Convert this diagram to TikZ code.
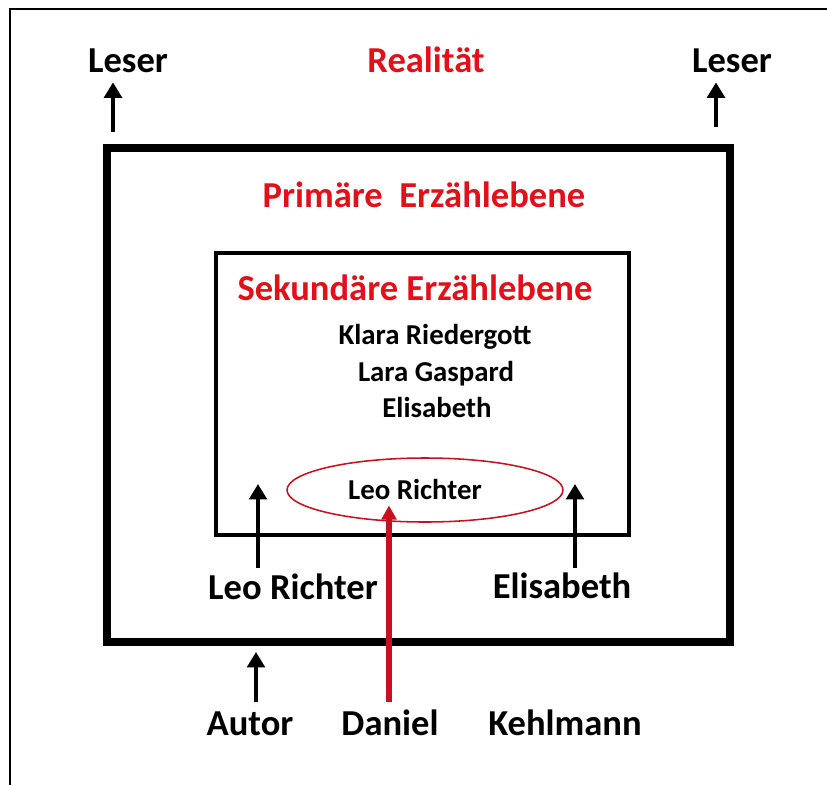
\documentclass[tikz,border=0pt]{standalone}
\usepackage{fontspec}
\setmainfont{Carlito}
\usetikzlibrary{arrows.meta, shapes.geometric}
\definecolor{LevelRed}{HTML}{E3101A}
\definecolor{LineRed}{HTML}{C8101E}
\tikzset{
  level/.style={text=LevelRed, anchor=base, inner sep=0pt, font=\fontsize{26}{30}\selectfont\bfseries},
  person/.style={anchor=base, inner sep=0pt, font=\fontsize{26}{30}\selectfont\bfseries},
  figure/.style={anchor=base, inner sep=0pt, font=\fontsize{20.5}{24}\selectfont\bfseries},
  frame/.style={draw=black, line width=2.1pt},
  primbox/.style={draw=black, line width=5.7pt},
  sekbox/.style={draw=black, line width=2.8pt},
  ring/.style={draw=LineRed, ellipse, line width=1.1pt, minimum width=69mm, minimum height=16mm},
  arrow/.style={-{Triangle[length=11pt, width=12.5pt]}, line width=3.3pt},
  redarrow/.style={-{Triangle[length=10pt, width=10.5pt]}, line width=3.6pt, draw=LineRed}
}

\begin{document}
\begin{tikzpicture}[x=0.25mm, y=-0.25mm]
\useasboundingbox (0,0) rectangle (827,785);

% frames
\draw[frame] (10,785) -- (10,9) -- (827,9);
\draw[primbox] (107,148) rectangle (730,642);
\draw[sekbox] (216,253) rectangle (629,535);

% labels of the levels
\node[level] (realitaet) at (426,72) {Realität};
\node[level] (primaer) at (424,207) {Primäre\ \ Erzählebene};
\node[level] (sekundaer) at (415,300) {Sekundäre Erzählebene};

% readers
\node[person] (leserL) at (128,72) {Leser};
\node[person] (leserR) at (732,72) {Leser};

% figures of the inner story
\node[figure] (klara) at (435,344) {Klara Riedergott};
\node[figure] (lara) at (436,381) {Lara Gaspard};
\node[figure] (elisInner) at (437,417) {Elisabeth};
\node[ring] (ring) at (425,490) {};
\node[figure] (leoInner) at (415,499) {Leo Richter};

% narrators
\node[person] (leoOuter) at (293,599) {Leo Richter};
\node[person] (elisOuter) at (562,598) {Elisabeth};

% author
\node[person] (autor) at (250,735) {Autor};
\node[person] (daniel) at (390,735) {Daniel};
\node[person] (kehlmann) at (565,735) {Kehlmann};

% arrow feet
\coordinate (leserLfoot) at (113,132);
\coordinate (leserRfoot) at (716,127);
\coordinate (leoFoot) at (258,568);
\coordinate (elisFoot) at (575,568);
\coordinate (autorFoot) at (256,702);
\coordinate (danielFoot) at (389,702);

\draw[arrow, shorten >=7pt] (leserLfoot) -- (leserLfoot |- leserL.south);
\draw[arrow, shorten >=7pt] (leserRfoot) -- (leserRfoot |- leserR.south);
\draw[arrow] (leoFoot) -- ++(0,-84);
\draw[arrow] (elisFoot) -- ++(0,-84);
\draw[arrow] (autorFoot) -- ++(0,-50);
\draw[redarrow, shorten >=4.3pt] (danielFoot) -- (danielFoot |- leoInner.south);
\end{tikzpicture}
\end{document}
